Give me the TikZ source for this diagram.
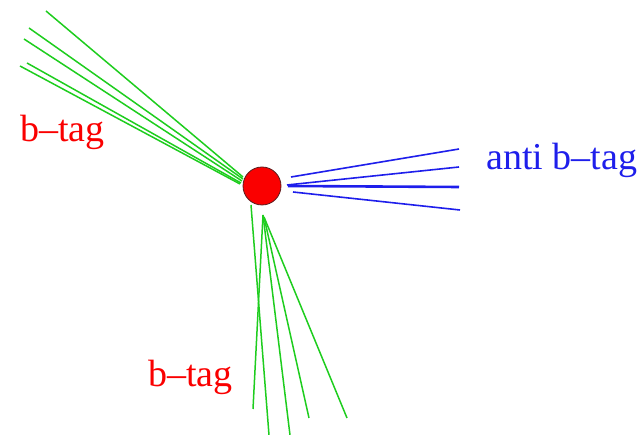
\documentclass[tikz,border=0pt]{standalone}
\usepackage{fontspec}
\setmainfont{Liberation Serif}
\definecolor{jetgreen}{RGB}{30,205,30}
\definecolor{jetblue}{RGB}{30,30,235}
\definecolor{tagred}{RGB}{250,0,0}
\definecolor{rimcol}{RGB}{90,30,30}
\begin{document}
\begin{tikzpicture}[x=1pt,y=-1pt,
  gjet/.style={draw=jetgreen,line width=1.5pt},
  bjet/.style={draw=jetblue,line width=1.6pt},
  lbl/.style={anchor=base west,inner sep=0pt,font=\fontsize{38}{41}\selectfont},
  vtx/.style={circle,fill=tagred,draw=rimcol,line width=0.8pt,minimum size=38pt,inner sep=0pt}]
\useasboundingbox (0,0) rectangle (641,435);
\node[vtx] (v) at (262,186) {};
% upper-left jet
\coordinate (a1) at (46,11);  \coordinate (a1e) at (243,177);
\coordinate (a2) at (29,28);  \coordinate (a2e) at (243,179);
\coordinate (a3) at (24,39);  \coordinate (a3e) at (242,181);
\coordinate (a4) at (27,63);  \coordinate (a4e) at (241,183);
\coordinate (a5) at (20,66);  \coordinate (a5e) at (240,184);
\foreach \i in {1,...,5} \draw[gjet] (a\i e) -- (a\i);
% right jet
\coordinate (b1s) at (291,177); \coordinate (b1) at (459,149);
\coordinate (b2s) at (287,185); \coordinate (b2) at (459,167);
\coordinate (b3s) at (288,186); \coordinate (b3) at (459,187);
\coordinate (b4s) at (293,192); \coordinate (b4) at (460,210);
\draw[bjet] (b1s) -- (b1);
\draw[bjet] (b2s) -- (b2);
\draw[bjet,line width=2.6pt] (b3s) -- (b3);
\draw[bjet] (b4s) -- (b4);
% lower jet
\coordinate (c1s) at (251,205); \coordinate (c1) at (269,435);
\coordinate (c2s) at (263,215); \coordinate (c2) at (253,409);
\coordinate (c3s) at (263,215); \coordinate (c3) at (290,435);
\coordinate (c4s) at (264,217); \coordinate (c4) at (309,418);
\coordinate (c5s) at (264,217); \coordinate (c5) at (347,418);
\foreach \i in {1,...,5} \draw[gjet] (c\i s) -- (c\i);
% labels
\node[lbl,text=tagred] (t1) at (20,142) {b–tag};
\node[lbl,text=tagred] (t2) at (148,387) {b–tag};
\node[lbl,text=jetblue] (t3) at (486,170) {anti b–tag};
\end{tikzpicture}
\end{document}
